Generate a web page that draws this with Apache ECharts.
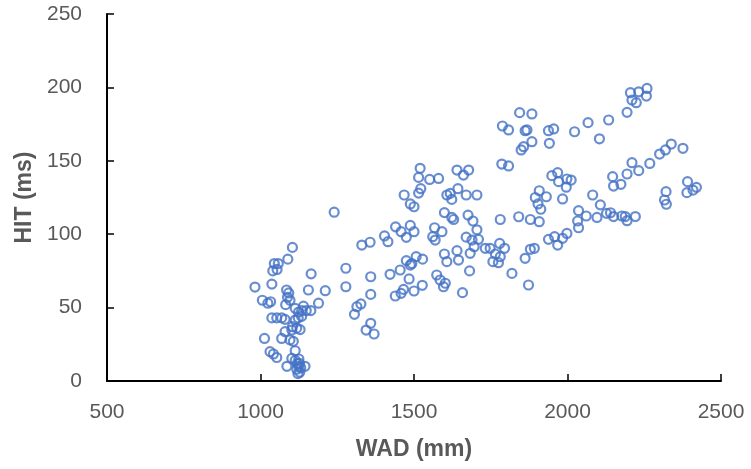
<!DOCTYPE html>
<html>
<head>
<meta charset="utf-8">
<script src="https://cdn.jsdelivr.net/npm/echarts@6/dist/echarts.min.js"></script>
<style>
  html, body { margin: 0; padding: 0; background: #fff; }
  #chart { width: 751px; height: 469px; }
</style>
</head>
<body>
<div id="chart"></div>
<script>
// WAD (mm) for each measurement
const wad = [
  1104, 1089, 1045, 1058, 1040, 1054, 1165, 982, 1037, 1085, 1092, 1088, 1096, 1156, 1211,
  1006, 1024, 1033, 1189, 1082, 1140, 1149, 1164, 1113, 1124, 1134, 1037, 1053, 1069, 1080,
  1113, 1123, 1134, 1104, 1118, 1129, 1080, 1102, 1013, 1069, 1096, 1107, 1031, 1042, 1053,
  1113, 1102, 1086, 1145, 1113, 1120, 1125, 1118, 1124, 1128, 1122, 1131, 1127,
  1240, 1278, 1278, 1314, 1327, 1306, 1330, 1357, 1359, 1359, 1359, 1344, 1370, 1404, 1415,
  1422, 1440, 1458, 1475, 1488, 1500, 1455, 1484, 1439, 1458, 1466, 1475, 1493, 1507, 1528,
  1488, 1527, 1500, 1468, 1488, 1500, 1515, 1522, 1515, 1520, 1551, 1580,
  1607, 1618, 1643, 1670, 1705, 1623, 1599, 1623, 1629, 1676, 1692, 1705, 1670, 1689, 1696,
  1567, 1591, 1561, 1569, 1599, 1607, 1640, 1645, 1681, 1574, 1585, 1602, 1596, 1658, 1640,
  1661, 1678, 1710, 1683,
  1732, 1748, 1779, 1795, 1765, 1781, 1757, 1775, 1819, 1873, 1862, 1879, 1892, 1781, 1841,
  1879, 1908, 1786, 1808, 1788, 1808, 1844, 1884, 1862, 1868, 1884, 1849, 1857, 1895, 1908,
  1931, 1904, 1913,
  1938, 1955, 1941, 2023, 2067, 2104, 2134, 1949, 1968, 1971, 1998, 2012, 1996, 1984, 2082,
  2107, 2127, 2036, 2033, 2061, 2096, 2036, 1938, 1958, 1968, 1984, 1998, 2205, 2232, 2259,
  2257, 2210, 2224, 2194, 2338, 2319, 2300, 2376, 2210, 2232, 2268, 2194, 2147, 2150, 2174,
  2140, 2150, 2177, 2188, 2194, 2221, 2321, 2316, 2322, 2391, 2389, 2409, 2420
];
// HIT (ms), same order as wad
const hit = [
  91, 83, 80, 80, 75, 76, 73, 64, 66, 62, 60, 57, 55, 62, 61.5,
  55, 53, 54, 53, 52, 51, 48, 48, 49.5, 47, 48, 43, 43, 43, 42,
  41.5, 43, 44, 37, 36, 35, 33.6, 34.7, 29, 29, 28, 27, 20, 18.4, 16,
  20.6, 15.4, 10, 10, 14, 12, 15, 8, 10, 6, 5, 9, 12,
  115, 76.8, 64.2, 50.6, 52.5, 45.4, 92.6, 94.5, 71, 59, 39.3, 34.7, 32, 98.8, 94.9,
  72.7, 105, 101.7, 97.9, 106, 101.7, 75.6, 69.5, 57.9, 59.7, 62.4, 82, 80, 84.7, 83,
  79, 65.2, 61.3, 126.7, 120.6, 118.7, 128, 131, 138.7, 144.9, 137.3, 138,
  126.7, 127.8, 131, 126.7, 126.7, 123.7, 114.7, 111.4, 110, 113, 109, 103, 98, 96, 91.5,
  104.4, 101.7, 98.3, 96, 86.5, 81.3, 88.8, 82.4, 75, 72.2, 68.8, 66.6, 64.2, 60.2, 143.7,
  140.3, 143.7, 96.5, 87,
  90.4, 90.4, 93.7, 90.4, 86.5, 84.7, 81.3, 80.6, 73.3, 65.4, 83.6, 89.7, 90.4, 110, 111.9,
  110, 108.5, 147.8, 146.5, 173.7, 171, 182.8, 181.9, 170.5, 171, 163, 157.4, 159.6, 125, 129.6,
  125.5, 120.6, 117,
  170.5, 171.7, 161.9, 169.8, 176, 165, 177.8, 139.9, 141.9, 135.8, 137.6, 136.9, 132, 124, 126.7,
  120, 114.2, 116, 109, 112.4, 111.4, 104.4, 96.5, 98.3, 92.6, 97.2, 100.5, 196.4, 197, 199.3,
  194.1, 191.4, 189.6, 183, 161.4, 157.4, 154.6, 158.5, 148.7, 143.3, 148.2, 141, 139.2, 132.8, 134,
  114.6, 112, 112.4, 112, 109.2, 112, 129, 123.3, 120.4, 135.8, 128.3, 130, 131.9
];
const xTicks = { min: 500, max: 2500, step: 500 };
const yTicks = { min: 0, max: 250, step: 50 };
const xTitle = 'WAD (mm)';
const yTitle = 'HIT (ms)';

const points = wad.map((w, i) => [w, hit[i]]);

const labelFont = '"Liberation Sans", "DejaVu Sans", sans-serif';
const axisColor = '#000000';
const textColor = '#595959';
const plain = v => String(v);

const chart = echarts.init(document.getElementById('chart'), null, { renderer: 'canvas' });
chart.setOption({
  animation: false,
  backgroundColor: '#ffffff',
  grid: { left: 107, right: 30, top: 14, bottom: 88, containLabel: false },
  xAxis: {
    type: 'value',
    min: xTicks.min, max: xTicks.max, interval: xTicks.step,
    name: xTitle,
    nameLocation: 'middle',
    nameGap: 57,
    nameTextStyle: { fontFamily: labelFont, fontSize: 23, fontWeight: 'bold', color: textColor },
    axisLine: { show: true, lineStyle: { color: axisColor, width: 2 } },
    axisTick: { show: true, inside: true, length: 7, lineStyle: { color: axisColor, width: 1.5 } },
    axisLabel: { margin: 21, fontFamily: labelFont, fontSize: 21, color: textColor, formatter: plain },
    splitLine: { show: false }
  },
  yAxis: {
    type: 'value',
    min: yTicks.min, max: yTicks.max, interval: yTicks.step,
    name: yTitle,
    nameLocation: 'middle',
    nameGap: 69,
    nameRotate: 90,
    nameTextStyle: { fontFamily: labelFont, fontSize: 23, fontWeight: 'bold', color: textColor },
    axisLine: { show: true, lineStyle: { color: axisColor, width: 2 } },
    axisTick: { show: true, inside: true, length: 7, lineStyle: { color: axisColor, width: 1.5 } },
    axisLabel: { margin: 25, fontFamily: labelFont, fontSize: 21, color: textColor, formatter: plain },
    splitLine: { show: false }
  },
  series: [{
    type: 'scatter',
    data: points,
    symbol: 'circle',
    symbolSize: 9,
    itemStyle: { color: 'rgba(255,255,255,0)', borderColor: '#4472C4', borderWidth: 2.2 },
    emphasis: { disabled: true }
  }]
});
</script>
</body>
</html>
